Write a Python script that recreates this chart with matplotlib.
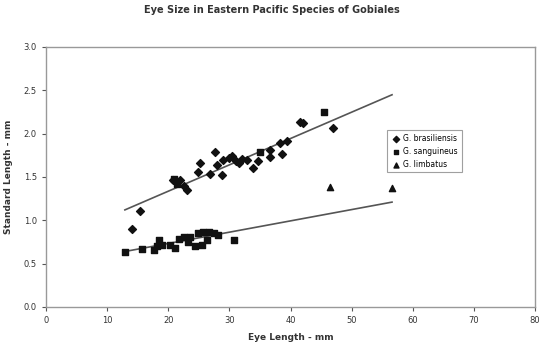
import numpy as np
import matplotlib
matplotlib.use("Agg")
import matplotlib.pyplot as plt

# Data
sp1_x = [15.4, 14.0, 20.8, 21.9, 23.0, 25.2, 24.9, 27.7, 26.8, 28.8, 27.9,
         29.0, 30.0, 31.0, 32.0, 32.9, 33.9, 34.7, 36.7, 36.7, 38.3, 39.4,
         38.6, 41.6, 42.1, 47.0, 22.5, 30.5, 31.5]
sp1_y = [1.11, 0.90, 1.46, 1.46, 1.35, 1.66, 1.56, 1.79, 1.54, 1.52, 1.64,
         1.70, 1.72, 1.69, 1.71, 1.70, 1.60, 1.68, 1.81, 1.73, 1.89, 1.91,
         1.77, 2.14, 2.12, 2.06, 1.40, 1.74, 1.66]
sp2_x = [12.9, 15.7, 17.6, 18.4, 18.1, 18.9, 20.3, 21.1, 21.7, 22.5, 23.6,
         23.3, 24.4, 24.9, 25.7, 25.5, 26.6, 27.4, 28.2, 30.7, 26.3, 35.0,
         45.4, 21.0, 21.5]
sp2_y = [0.64, 0.665, 0.66, 0.77, 0.70, 0.715, 0.715, 0.68, 0.79, 0.81, 0.81,
         0.75, 0.70, 0.85, 0.87, 0.715, 0.87, 0.85, 0.83, 0.77, 0.77, 1.79,
         2.25, 1.48, 1.42]
sp3_x = [46.5, 56.6]
sp3_y = [1.39, 1.37]

labels = ["G. brasiliensis", "G. sanguineus", "G. limbatus"]

# linear trendlines y = m * x + c
trend_upper = (0.0304, 0.728)
trend_lower = (0.01304, 0.472)
trend_range = (12.9, 56.6)

x_ticks = [0, 10, 20, 30, 40, 50, 60, 70, 80]
y_ticks = [0.0, 0.5, 1.0, 1.5, 2.0, 2.5, 3.0]

fig = plt.figure(figsize=(5.44, 3.54), dpi=100)
ax = fig.add_axes([0.0846, 0.1328, 0.899, 0.7345])

mk = "#111111"
ax.scatter(sp1_x, sp1_y, marker="D", s=16, color=mk, label=labels[0], zorder=3)
ax.scatter(sp2_x, sp2_y, marker="s", s=16, color=mk, label=labels[1], zorder=3)
ax.scatter(sp3_x, sp3_y, marker="^", s=20, color=mk, label=labels[2], zorder=3)

xx = np.array(trend_range)
for m, c in (trend_upper, trend_lower):
    ax.plot(xx, m * xx + c, color="#555555", lw=1.2, zorder=2)

ax.set_xlim(0, 80)
ax.set_ylim(0, 3.0)
ax.set_xticks(x_ticks)
ax.set_yticks(y_ticks)
ax.set_yticklabels([f"{v:.1f}" for v in y_ticks])
for s in ax.spines.values():
    s.set_color("#999999")
    s.set_linewidth(1.0)
ax.tick_params(colors="#555555", labelsize=6, length=3, width=0.8, labelcolor="#333333")

ax.set_xlabel("Eye Length - mm", fontsize=6.5, fontweight="bold", color="#333333", labelpad=6)
ax.set_ylabel("Standard Length - mm", fontsize=6.5, fontweight="bold", color="#333333", labelpad=8)
fig.suptitle("Eye Size in Eastern Pacific Species of Gobiales", y=0.985,
             fontsize=7, fontweight="bold", color="#333333")

leg = ax.legend(loc="upper left", bbox_to_anchor=(0.69, 0.695), fontsize=5.5,
                frameon=True, fancybox=False, borderpad=0.5, handletextpad=0.4,
                labelspacing=0.5, markerscale=0.8, handlelength=1.2)
leg.get_frame().set_edgecolor("#888888")
leg.get_frame().set_linewidth(0.8)

fig.savefig("out.png", dpi=100)
